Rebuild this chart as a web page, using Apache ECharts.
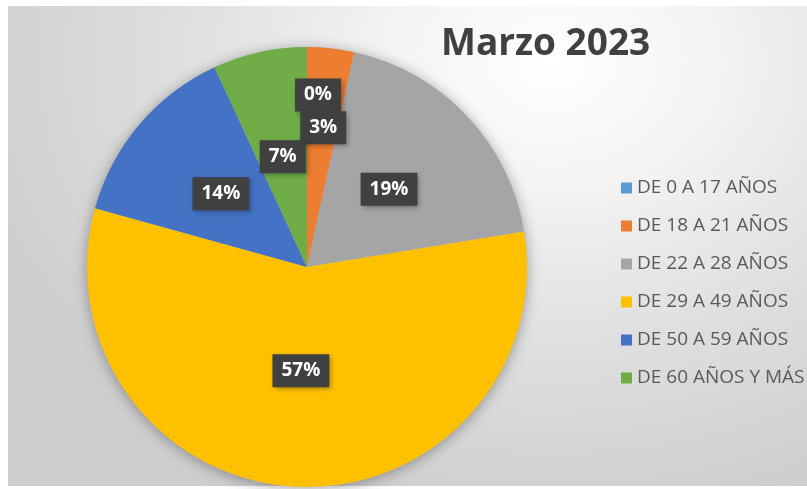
<!DOCTYPE html>
<html>
<head>
<meta charset="utf-8">
<script src="https://cdn.jsdelivr.net/npm/echarts@6/dist/echarts.min.js"></script>
<style>
  html, body { margin: 0; padding: 0; background: #fff; }
  #backdrop {
    position: absolute; left: 8px; top: 6px; width: 799px; height: 480px;
    background: radial-gradient(ellipse 75% 95% at 68% 12%, #ffffff 0%, #f3f3f3 28%, #dfdfdf 62%, #cecece 100%);
  }
  #chart { position: absolute; left: 0; top: 0; width: 807px; height: 489px; }
</style>
</head>
<body>
<div id="backdrop"></div>
<div id="chart"></div>
<script>
const title = "Marzo 2023";
const categories = ["DE 0 A 17 AÑOS", "DE 18 A 21 AÑOS", "DE 22 A 28 AÑOS", "DE 29 A 49 AÑOS", "DE 50 A 59 AÑOS", "DE 60 AÑOS Y MÁS"];
const counts = [0, 2, 11, 33, 8, 4];
const colors = ["#5B9BD5", "#ED7D31", "#A5A5A5", "#FFC000", "#4472C4", "#70AD47"];

// label nudges (Excel moved a few labels off the default spot)
const labelShift = { 0: [11, -59], 1: [4, -27], 3: [0, -9] };

const chart = echarts.init(document.getElementById("chart"), null, { renderer: "canvas" });

chart.setOption({
  animation: false,
  backgroundColor: "transparent",
  title: {
    text: title,
    left: 441,
    top: 26,
    padding: 0,
    textStyle: { fontFamily: "Open Sans", fontWeight: "bold", fontSize: 37, color: "#404040" },
  },
  legend: {
    orient: "vertical",
    left: 616,
    top: 173,
    itemWidth: 11,
    itemHeight: 11,
    itemGap: 18,
    icon: "rect",
    data: categories,
    textStyle: { fontFamily: "Open Sans", fontSize: 19, lineHeight: 20, color: "#595959" },
  },
  series: [
    {
      // soft shadow under the pie
      type: "pie",
      silent: true,
      center: [307, 267],
      radius: 220,
      label: { show: false },
      labelLine: { show: false },
      itemStyle: { color: "#bbbbbb", shadowBlur: 14, shadowColor: "rgba(0,0,0,0.35)", shadowOffsetY: 2 },
      data: [{ value: 1, name: "_shadow" }],
    },
    {
      type: "pie",
      center: [307, 267],
      radius: 220,
      startAngle: 90,
      clockwise: true,
      percentPrecision: 0,
      avoidLabelOverlap: false,
      itemStyle: { borderWidth: 0 },
      label: {
        show: true,
        position: "inside",
        formatter: "{d}%",
        fontFamily: "Open Sans",
        fontWeight: "bold",
        fontSize: 19,
        lineHeight: 23,
        color: "#ffffff",
        backgroundColor: "#404040",
        padding: [5, 9],
        shadowBlur: 5,
        shadowColor: "rgba(0,0,0,0.35)",
        shadowOffsetX: 2,
        shadowOffsetY: 2,
      },
      labelLayout: (params) => {
        const s = labelShift[params.dataIndex];
        return s ? { dx: s[0], dy: s[1] } : {};
      },
      data: categories.map((name, i) => ({ name, value: counts[i], itemStyle: { color: colors[i] } })),
    },
  ],
});
</script>
</body>
</html>
